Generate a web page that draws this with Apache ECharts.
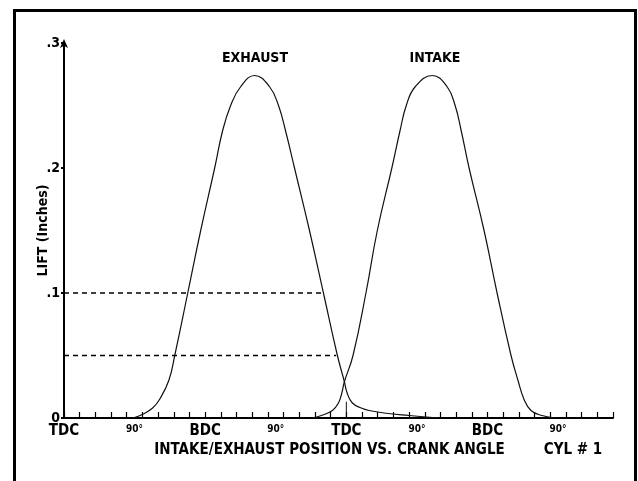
<!DOCTYPE html>
<html>
<head>
<meta charset="utf-8">
<script src="https://cdn.jsdelivr.net/npm/echarts@6/dist/echarts.min.js"></script>
<style>
  html, body { margin: 0; padding: 0; background: #fff; }
  #chart { width: 638px; height: 481px; }
</style>
</head>
<body>
<div id="chart"></div>
<script>
// crank angle in degrees, lift in inches
const exhaustAngle = [88, 100.5, 113, 122, 133.6, 141.2, 157.8, 174.3, 192.1, 202.3, 212.5, 225.2, 243, 262.1, 273.5, 282.4, 293.9, 313, 330.8, 348.6, 357.5, 361, 367.7, 379, 389, 408, 440, 478];
const exhaustLift  = [0, 0.003, 0.008, 0.015, 0.03, 0.05, 0.1, 0.15, 0.2, 0.23, 0.25, 0.265, 0.274, 0.265, 0.25, 0.23, 0.2, 0.15, 0.1, 0.05, 0.029, 0.02, 0.012, 0.008, 0.006, 0.004, 0.002, 0];
const intakeAngle  = [315.5, 328.2, 342.2, 349.9, 354.2, 357.5, 368.5, 385, 399.5, 418, 428.5, 436.4, 447.8, 469.5, 488.5, 498.7, 506.4, 516.5, 535.6, 552.2, 570, 578.9, 586.5, 595.4, 609.4, 627.2];
const intakeLift   = [0, 0.002, 0.006, 0.012, 0.02, 0.029, 0.05, 0.1, 0.15, 0.2, 0.23, 0.25, 0.265, 0.274, 0.265, 0.25, 0.23, 0.2, 0.15, 0.1, 0.05, 0.03, 0.015, 0.006, 0.002, 0];

// dashed reference lines (lift, angle where they stop)
const refLift  = [0.1, 0.05];
const refEnd   = [328, 347];

const xTickLabels = ["TDC", "90°", "BDC", "90°", "TDC", "90°", "BDC", "90°"];
const yTickLabels = ["0", ".1", ".2", ".3"];

const font = "'Liberation Sans Narrow', 'DejaVu Sans Condensed', 'Arial Narrow', sans-serif";

function pairs(xs, ys) {
  return xs.map((x, i) => [x, ys[i]]);
}

let myChart = echarts.init(document.getElementById("chart"));

let series = [
  {
    name: "EXHAUST",
    type: "line",
    data: pairs(exhaustAngle, exhaustLift),
    smooth: 0.45,
    symbol: "none",
    lineStyle: { color: "#111", width: 1.2 },
    z: 3
  },
  {
    name: "INTAKE",
    type: "line",
    data: pairs(intakeAngle, intakeLift),
    smooth: 0.45,
    symbol: "none",
    lineStyle: { color: "#111", width: 1.2 },
    z: 3
  },
  {
    // TDC marker
    type: "line",
    data: [[360, 0], [360, 0.013]],
    symbol: "none",
    lineStyle: { color: "#111", width: 1 }
  }
];

refLift.forEach((v, i) => {
  series.push({
    type: "line",
    data: [[0, v], [refEnd[i], v]],
    symbol: "none",
    lineStyle: { color: "#000", width: 1.3, type: [5, 4] }
  });
});

myChart.setOption({
  animation: false,
  backgroundColor: "#fff",
  textStyle: { fontFamily: font },
  grid: {
    left: 64,
    right: 25,
    top: 43,
    bottom: 63
  },
  xAxis: [
    {
      type: "value",
      min: 0,
      max: 700,
      interval: 90,
      splitLine: { show: false },
      axisLine: { lineStyle: { color: "#000", width: 2 } },
      axisTick: { show: false },
      axisLabel: {
        margin: 6,
        showMaxLabel: false,
        formatter: function (v) {
          if (v % 90 !== 0) return "";
          let t = xTickLabels[v / 90];
          if (!t) return "";
          return t === "90°" ? "{s|" + t + "}" : "{b|" + t + "}";
        },
        rich: {
          b: { fontFamily: font, fontWeight: "bold", fontSize: 15, color: "#000" },
          s: { fontFamily: font, fontWeight: "bold", fontSize: 10, color: "#000" }
        }
      },
      name: "INTAKE/EXHAUST POSITION VS. CRANK ANGLE",
      nameLocation: "middle",
      nameGap: 25,
      nameMoveOverlap: false,
      nameTextStyle: {
        fontFamily: font,
        fontWeight: "bold",
        fontSize: 15,
        color: "#000",
        padding: [0, 18, 0, 0]
      }
    },
    {
      // small crank ticks every 20 degrees
      type: "value",
      position: "bottom",
      min: 0,
      max: 700,
      interval: 20,
      splitLine: { show: false },
      axisLine: { show: false },
      axisTick: { inside: true, length: 6, lineStyle: { color: "#000", width: 1.2 } },
      axisLabel: { show: false }
    }
  ],
  yAxis: {
    type: "value",
    min: 0,
    max: 0.3,
    interval: 0.1,
    splitLine: { show: false },
    axisLine: {
      symbol: ["none", "arrow"],
      symbolSize: [6, 9],
      symbolOffset: [0, 4],
      lineStyle: { color: "#000", width: 2 }
    },
    axisTick: { length: 3, lineStyle: { color: "#000", width: 2 } },
    axisLabel: {
      margin: 4,
      fontFamily: font,
      fontWeight: "bold",
      fontSize: 14,
      color: "#000",
      formatter: function (v) {
        return yTickLabels[Math.round(v * 10)];
      }
    },
    name: "LIFT (Inches)",
    nameLocation: "middle",
    nameRotate: 90,
    nameGap: 14,
    nameMoveOverlap: false,
    nameTextStyle: {
      fontFamily: font,
      fontWeight: "bold",
      fontSize: 14,
      color: "#000"
    }
  },
  graphic: [
    { type: "rect", shape: { x: 13, y: 9, width: 3, height: 472 }, style: { fill: "#000" } },
    { type: "rect", shape: { x: 13, y: 9, width: 624, height: 3 }, style: { fill: "#000" } },
    { type: "rect", shape: { x: 634, y: 9, width: 3, height: 472 }, style: { fill: "#000" } },
    {
      type: "text", x: 255, y: 58,
      style: { text: "EXHAUST", align: "center", verticalAlign: "middle", font: "bold 14px " + font, fill: "#000" }
    },
    {
      type: "text", x: 435, y: 58,
      style: { text: "INTAKE", align: "center", verticalAlign: "middle", font: "bold 14px " + font, fill: "#000" }
    },
    {
      type: "text", x: 573, y: 450,
      style: { text: "CYL # 1", align: "center", verticalAlign: "middle", font: "bold 15px " + font, fill: "#000" }
    }
  ],
  series: series
});
</script>
</body>
</html>
